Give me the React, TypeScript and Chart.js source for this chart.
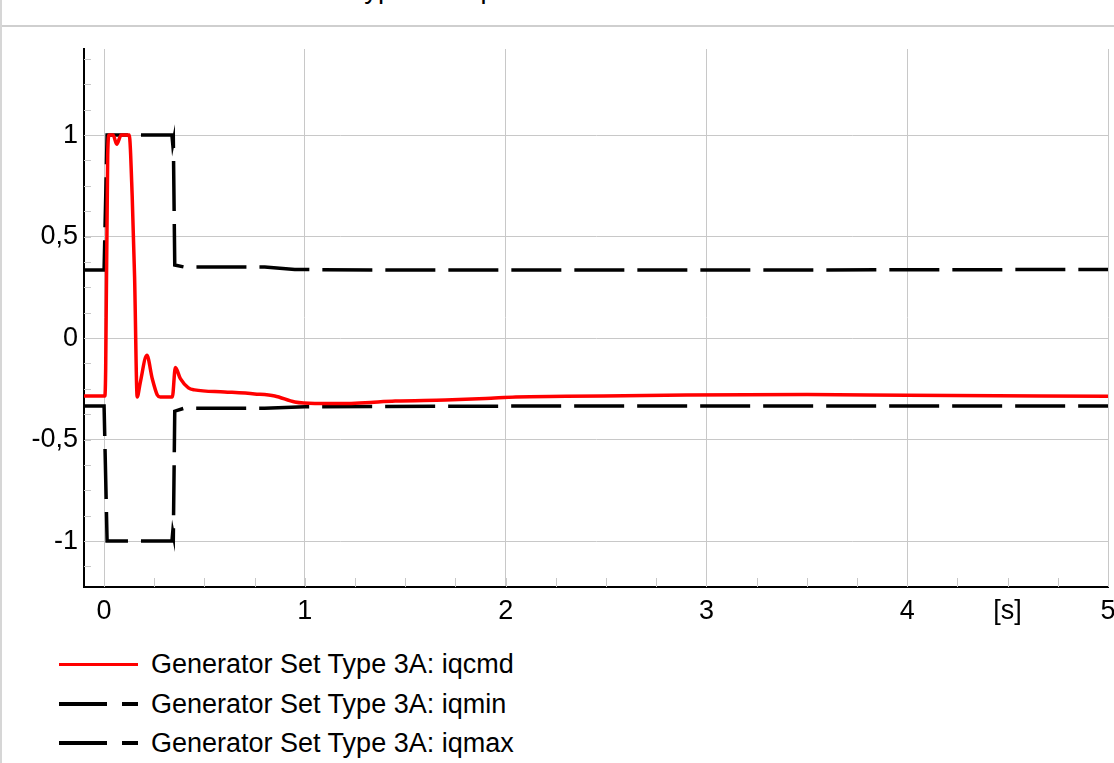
import React, { useEffect, useRef } from 'react';
import { Chart, registerables } from 'chart.js';

Chart.register(...registerables);

// ---------- data ----------
const titleText = 'Generator Set Type 3A: iqcmd';
const seriesNames = [
  'Generator Set Type 3A: iqcmd',
  'Generator Set Type 3A: iqmin',
  'Generator Set Type 3A: iqmax',
];

const iqcmdT = [-0.1, 0.0, 0.004, 0.008, 0.018, 0.025, 0.045, 0.063, 0.085, 0.125, 0.14, 0.152, 0.165, 0.18, 0.213, 0.24, 0.265, 0.28, 0.34, 0.355, 0.38, 0.42, 0.45, 0.6, 0.75, 0.85, 0.95, 1.05, 1.2, 1.3, 1.45, 1.7, 1.9, 2.05, 2.3, 2.9, 3.5, 4.0, 5.0];
const iqcmdV = [-0.285, -0.285, -0.285, -0.15, 0.9, 1.0, 1.0, 0.955, 1.0, 1.0, 0.7, 0.3, -0.29, -0.22, -0.085, -0.2, -0.28, -0.29, -0.29, -0.145, -0.2, -0.245, -0.255, -0.265, -0.275, -0.285, -0.315, -0.322, -0.322, -0.318, -0.31, -0.305, -0.298, -0.29, -0.287, -0.28, -0.278, -0.282, -0.287];

const iqmaxT = [-0.1, 0.0, 0.015, 0.338, 0.342, 0.345, 0.352, 0.4, 0.8, 0.95, 1.5, 3.0, 5.0];
const iqmaxV = [0.335, 0.335, 1.0, 1.0, 0.955, 0.97, 0.36, 0.35, 0.35, 0.338, 0.335, 0.335, 0.338];

const iqminT = [-0.1, 0.0, 0.015, 0.338, 0.342, 0.345, 0.352, 0.4, 0.8, 1.0, 2.0, 5.0];
const iqminV = [-0.335, -0.335, -1.0, -1.0, -0.955, -0.97, -0.36, -0.345, -0.345, -0.338, -0.335, -0.335];

const xMajorTicks = [0, 1, 2, 3, 4, 5];
const xUnitLabel = '[s]';
const xUnitPos = 4.5;
const yTicks = [-1, -0.5, 0, 0.5, 1];
const xMinorStep = 0.25;
const yMinorStep = 0.125;
const xMin = -0.1;
const xMax = 5;
const yMin = -1.226;
const yMax = 1.424;

// ---------- styles ----------
const FONT = "'Liberation Sans', Arial, sans-serif";
const GRID = '#c8c8c8';
const RED = '#ff0000';
const DASH = [50, 13];

const toPoints = (t: number[], v: number[]) => t.map((x, i) => ({ x, y: v[i] }));

const minorTicksPlugin = {
  id: 'minorTicks',
  beforeDatasetsDraw(chart: any) {
    const { ctx, chartArea } = chart;
    const xs = chart.scales.x;
    const ys = chart.scales.y;
    ctx.save();
    ctx.strokeStyle = GRID;
    ctx.lineWidth = 1;
    ctx.beginPath();
    for (let i = Math.ceil(xs.min / xMinorStep); i * xMinorStep <= xs.max + 1e-9; i++) {
      const px = Math.round(xs.getPixelForValue(i * xMinorStep)) + 0.5;
      ctx.moveTo(px, chartArea.bottom);
      ctx.lineTo(px, chartArea.bottom - 9);
    }
    for (let i = Math.ceil(ys.min / yMinorStep); i * yMinorStep <= ys.max + 1e-9; i++) {
      const py = Math.round(ys.getPixelForValue(i * yMinorStep)) + 0.5;
      ctx.moveTo(chartArea.left, py);
      ctx.lineTo(chartArea.left + 7, py);
    }
    ctx.stroke();
    ctx.restore();
  },
};

function fmt(v: number) {
  return String(v).replace('.', ',');
}

export default function App() {
  const canvasRef = useRef<HTMLCanvasElement>(null);

  useEffect(() => {
    if (!canvasRef.current) return;
    const chart = new Chart(canvasRef.current, {
      type: 'line',
      data: {
        datasets: [
          {
            label: seriesNames[0],
            data: toPoints(iqcmdT, iqcmdV),
            borderColor: RED,
            borderWidth: 3.5,
            pointRadius: 0,
            cubicInterpolationMode: 'monotone',
            fill: false,
          },
          {
            label: seriesNames[1],
            data: toPoints(iqminT, iqminV),
            borderColor: '#000000',
            borderWidth: 3.5,
            borderDash: DASH,
            pointRadius: 0,
            tension: 0,
            fill: false,
          },
          {
            label: seriesNames[2],
            data: toPoints(iqmaxT, iqmaxV),
            borderColor: '#000000',
            borderWidth: 3.5,
            borderDash: DASH,
            pointRadius: 0,
            tension: 0,
            fill: false,
          },
        ],
      },
      options: {
        animation: false,
        responsive: false,
        maintainAspectRatio: false,
        layout: { padding: { top: 49, right: 6, left: 0, bottom: 0 } },
        plugins: {
          legend: { display: false },
          title: { display: false },
          tooltip: { enabled: false },
        },
        scales: {
          x: {
            type: 'linear',
            min: xMin,
            max: xMax,
            afterBuildTicks: (scale: any) => {
              scale.ticks = [...xMajorTicks, xUnitPos].sort((a, b) => a - b).map((v) => ({ value: v }));
            },
            afterFit: (scale: any) => {
              scale.height = 53;
              scale.paddingLeft = 0;
              scale.paddingRight = 0;
            },
            ticks: {
              autoSkip: false,
              maxRotation: 0,
              minRotation: 0,
              padding: 8,
              color: '#000',
              font: { family: FONT, size: 27 },
              callback: (v: any) => (Number(v) === xUnitPos ? xUnitLabel : fmt(Number(v))),
            },
            grid: {
              drawTicks: false,
              color: (ctx: any) => (ctx.tick && ctx.tick.value === xUnitPos ? 'rgba(0,0,0,0)' : GRID),
              lineWidth: 1,
            },
            border: { display: true, color: '#000', width: 2 },
          },
          y: {
            type: 'linear',
            min: yMin,
            max: yMax,
            afterBuildTicks: (scale: any) => {
              scale.ticks = yTicks.map((v) => ({ value: v }));
            },
            afterFit: (scale: any) => {
              scale.width = 84;
              scale.paddingTop = 0;
              scale.paddingBottom = 0;
            },
            ticks: {
              autoSkip: false,
              padding: 6,
              color: '#000',
              font: { family: FONT, size: 27 },
              callback: (v: any) => fmt(Number(v)),
            },
            grid: {
              drawTicks: false,
              color: GRID,
              lineWidth: 1,
            },
            border: { display: true, color: '#000', width: 2 },
          },
        },
      },
      plugins: [minorTicksPlugin],
    } as any);
    return () => chart.destroy();
  }, []);

  const rowY = [664, 704, 743];

  return (
    <div
      style={{
        position: 'fixed',
        left: 0,
        top: 0,
        width: 1114,
        height: 763,
        background: '#fff',
        overflow: 'hidden',
        fontFamily: FONT,
      }}
    >
      <div
        style={{
          position: 'absolute',
          left: 169,
          top: -25,
          fontSize: 27.5,
          lineHeight: '27px',
          whiteSpace: 'nowrap',
          color: '#000',
        }}
      >
        {titleText}
      </div>
      <div style={{ position: 'absolute', left: 0, top: 25, width: 1114, height: 2, background: '#cfcfcf' }} />
      <div style={{ position: 'absolute', left: 0, top: 0, width: 2, height: 763, background: '#d6d6d6' }} />
      <canvas
        ref={canvasRef}
        width={1114}
        height={640}
        style={{ position: 'absolute', left: 0, top: 0, width: 1114, height: 640 }}
      />
      {seriesNames.map((name, i) => (
        <React.Fragment key={name}>
          {i === 0 ? (
            <div style={{ position: 'absolute', left: 59, top: rowY[i] - 1.5, width: 79, height: 3, background: RED }} />
          ) : (
            <>
              <div style={{ position: 'absolute', left: 59, top: rowY[i] - 2, width: 48, height: 4, background: '#000' }} />
              <div style={{ position: 'absolute', left: 122, top: rowY[i] - 2, width: 16, height: 4, background: '#000' }} />
            </>
          )}
          <div
            style={{
              position: 'absolute',
              left: 151,
              top: rowY[i] - 16,
              fontSize: 27,
              lineHeight: '32px',
              whiteSpace: 'nowrap',
              color: '#000',
            }}
          >
            {name}
          </div>
        </React.Fragment>
      ))}
    </div>
  );
}
